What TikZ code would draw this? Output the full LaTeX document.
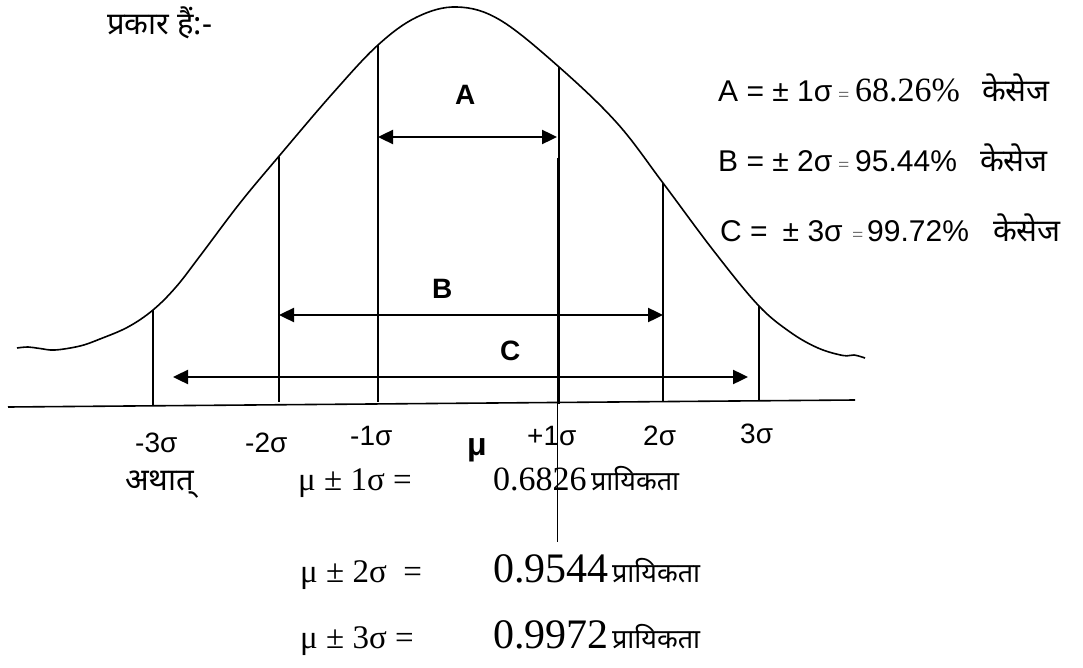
\documentclass[tikz,border=0pt]{standalone}
\usepackage{fontspec}
\setmainfont{Liberation Serif}
\setsansfont{Liberation Sans}
\newfontfamily\dev[Script=Devanagari]{Noto Sans}
\usetikzlibrary{arrows.meta}
\begin{document}
\begin{tikzpicture}[x=1pt,y=-1pt,
  curve/.style={line width=1.6pt},
  vline/.style={line width=1.6pt},
  thinv/.style={line width=1.3pt},
  dimarrow/.style={line width=2.4pt,{Triangle[length=15pt,width=14pt]}-{Triangle[length=15pt,width=14pt]}},
  txt/.style={inner sep=0pt,anchor=base west},
  ax/.style={txt,font=\sffamily\fontsize{28}{34}\selectfont},
  bold/.style={txt,font=\sffamily\bfseries\fontsize{28}{34}\selectfont},
  boldmu/.style={txt,font=\sffamily\bfseries\fontsize{32}{38}\selectfont},
  rsans/.style={txt,font=\sffamily\fontsize{30}{36}\selectfont},
  rnum/.style={txt,font=\fontsize{34}{40}\selectfont},
  rsmall/.style={txt,font=\fontsize{20}{24}\selectfont,text=black!65},
  devr/.style={txt,font=\dev\fontsize{31}{36}\selectfont},
  eqs/.style={txt,font=\fontsize{33}{38}\selectfont},
  probA/.style={txt,font=\fontsize{34}{40}\selectfont},
  probB/.style={txt,font=\fontsize{42}{48}\selectfont},
  devp/.style={txt,font=\dev\fontsize{27}{32}\selectfont}]
\useasboundingbox (0,0) rectangle (1083,668);

% heading
\node[devr] (head) at (107,35) {प्रकार हैं:-};

% bell curve
\draw[curve] plot[smooth,tension=0.6] coordinates {(17,348) (28,347) (40,348.5) (55,350) (80,346) (100,339) (128,327) (153,310) (176,287) (200,256) (240,203) (280,155) (333,93) (378,45) (417,17) (457,7) (500,20) (559,67) (617,123) (663,183) (713,250) (758,305) (790,332) (818,348) (843,355.5) (854,355) (865,358)};

% axis
\coordinate (axL) at (8,407);
\coordinate (axR) at (855,400);
\draw[vline] (axL) -- (axR);

% vertical lines
\coordinate (m3t) at (153,310); \coordinate (m3b) at (153,406);
\coordinate (m2t) at (279,157); \coordinate (m2b) at (279,402);
\coordinate (m1t) at (378,45);  \coordinate (m1b) at (378,402);
\coordinate (p1t) at (559,67);  \coordinate (p1b) at (559,404);
\coordinate (p1u) at (557.5,158); \coordinate (p1d) at (557.5,542);
\coordinate (p2t) at (663,183); \coordinate (p2b) at (663,401);
\coordinate (p3t) at (759,306); \coordinate (p3b) at (759,401);
\draw[vline] (m3t) -- (m3b);
\draw[vline] (m2t) -- (m2b);
\draw[vline] (m1t) -- (m1b);
\draw[thinv] (p1t) -- (p1b);
\draw[thinv] (p1u) -- (p1d);
\draw[vline] (p2t) -- (p2b);
\draw[vline] (p3t) -- (p3b);

% dimension arrows
\coordinate (aL) at (378,137); \coordinate (aR) at (557,137);
\coordinate (bL) at (279,315); \coordinate (bR) at (663,315);
\coordinate (cL) at (173,377); \coordinate (cR) at (748,377);
\draw[dimarrow] (aL) -- (aR);
\draw[dimarrow] (bL) -- (bR);
\draw[dimarrow] (cL) -- (cR);

\node[bold] (labA) at (455,105) {A};
\node[bold] (labB) at (432,298) {B};
\node[bold] (labC) at (500,360) {C};

% axis labels
\node[ax] (tm3) at (135,452) {-3σ};
\node[ax] (tm2) at (245,452) {-2σ};
\node[ax] (tm1) at (350,445) {-1σ};
\node[boldmu] (tmu) at (467,455) {μ};
\node[ax] (tp1) at (527,445) {+1σ};
\node[ax] (tp2) at (643,445) {2σ};
\node[ax] (tp3) at (740,443) {3σ};

% right-hand texts
\node[rsans] (ra) at (718,102) {A = ± 1σ};
\node[rsmall] (rae) at (838,102) {=};
\node[rnum] (rav) at (855,102) {68.26\%};
\node[devr] (rac) at (982,102) {केसेज};

\node[rsans] (rb) at (718,172) {B = ± 2σ};
\node[rsmall] (rbe) at (838,172) {=};
\node[rsans] (rbv) at (855,172) {95.44\%};
\node[devr] (rbc) at (980,172) {केसेज};

\node[rsans] (rc) at (720,242) {C =\enspace ± 3σ};
\node[rsmall] (rce) at (852,242) {=};
\node[rsans] (rcv) at (867,242) {99.72\%};
\node[devr] (rcc) at (993,242) {केसेज};

% bottom equations
\node[devr] (atha) at (125,490) {अथात्};
\node[eqs] (e1) at (298,490) {μ ± 1σ =};
\node[eqs] (e2) at (300,582) {μ ± 2σ\enspace=};
\node[eqs] (e3) at (300,648) {μ ± 3σ =};
\node[probA] (v1) at (493,490) {0.6826};
\node[probB] (v2) at (493,582) {0.9544};
\node[probB] (v3) at (493,648) {0.9972};
\node[devp] (w1) at (v1.base east) [anchor=base west,xshift=4pt] {प्रायिकता};
\node[devp] (w2) at (v2.base east) [anchor=base west,xshift=3pt] {प्रायिकता};
\node[devp] (w3) at (v3.base east) [anchor=base west,xshift=3pt] {प्रायिकता};
\end{tikzpicture}
\end{document}
